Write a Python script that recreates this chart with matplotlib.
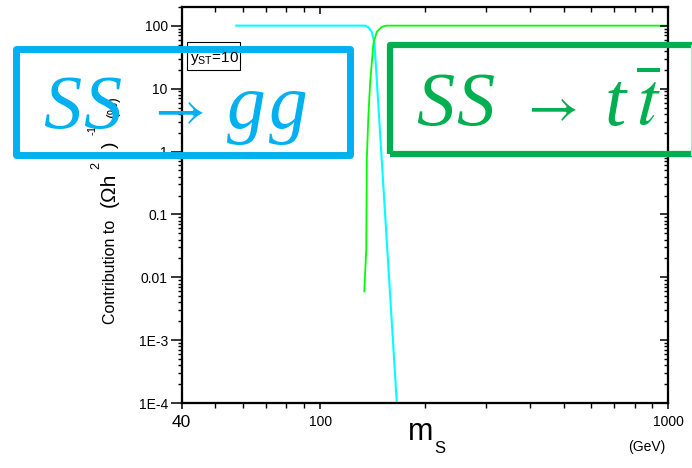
import matplotlib
matplotlib.use("Agg")
import matplotlib.pyplot as plt
from matplotlib.patches import Rectangle
from matplotlib.lines import Line2D
from matplotlib.ticker import FixedLocator, NullFormatter

# channel contributions (%) vs scalar mass (GeV), y_ST = 10
gg_mass = [57, 100, 134.7, 137.6, 140.6, 143.2, 166.0]
gg_frac = [100, 100, 100, 94, 80, 52.6, 1e-4]

tt_mass = [133.8, 135.6, 136.1, 137.5, 139.1, 142.2, 145.4, 150.3, 155, 1000]
tt_frac = [0.0058, 0.028, 0.75, 3.6, 12.3, 52.6, 80, 96, 100, 100]

x_major = [40, 100, 1000]
x_major_labels = ["40", "100", "1000"]
x_minor = [50, 60, 70, 80, 90, 200, 300, 400, 500, 600, 700, 800, 900]
y_major = [1e-4, 1e-3, 1e-2, 1e-1, 1, 10, 100]
y_major_labels = ["1E-4", "1E-3", "0.01", "0.1", "1", "10", "100"]

plt.rcParams["font.family"] = ["Liberation Sans", "DejaVu Sans"]
plt.rcParams["mathtext.fontset"] = "custom"
plt.rcParams["mathtext.it"] = "Liberation Serif:italic"
plt.rcParams["mathtext.rm"] = "Liberation Serif"

W, H = 692, 468
fig = plt.figure(figsize=(W / 100, H / 100), dpi=100)


def fx(px):
    return px / W


def fy(py):
    return 1 - py / H


ax = fig.add_axes([fx(181.7), fy(403.3), (668.3 - 181.7) / W, (403.3 - 6.7) / H])
ax.set_xscale("log")
ax.set_yscale("log")
ax.set_xlim(40, 1000)
ax.set_ylim(1e-4, 200)

ax.plot(gg_mass, gg_frac, color="#00ffff", lw=1.5, solid_capstyle="butt")
ax.plot(tt_mass, tt_frac, color="#00ff00", lw=1.3, solid_capstyle="butt")

for s in ax.spines.values():
    s.set_linewidth(1.5)

ax.xaxis.set_major_locator(FixedLocator(x_major))
ax.xaxis.set_minor_locator(FixedLocator(x_minor))
ax.set_xticklabels(x_major_labels)
ax.xaxis.set_minor_formatter(NullFormatter())
ax.yaxis.set_major_locator(FixedLocator(y_major))
ax.set_yticklabels(y_major_labels)
ax.yaxis.set_minor_formatter(NullFormatter())

ax.tick_params(axis="x", which="major", direction="out", length=4.5, width=1.1, labelsize=10, pad=4)
ax.tick_params(axis="x", which="minor", direction="out", length=3.3, width=1.0)
ax.tick_params(axis="y", which="major", direction="out", length=8, width=1.1, labelsize=10, pad=2)
ax.tick_params(axis="y", which="minor", direction="out", length=3, width=1.0)
ax.get_xticklabels()[0].set_fontsize(12.5)

# inward ticks on the top and right edges
ax_top = ax.twiny()
ax_top.set_xscale("log")
ax_top.set_xlim(40, 1000)
ax_top.xaxis.set_major_locator(FixedLocator(x_major))
ax_top.xaxis.set_minor_locator(FixedLocator(x_minor))
ax_top.xaxis.set_major_formatter(NullFormatter())
ax_top.xaxis.set_minor_formatter(NullFormatter())
ax_top.tick_params(axis="x", which="major", direction="in", length=5, width=1.1)
ax_top.tick_params(axis="x", which="minor", direction="in", length=3.3, width=1.0)

ax_right = ax.twinx()
ax_right.set_yscale("log")
ax_right.set_ylim(1e-4, 200)
ax_right.yaxis.set_major_locator(FixedLocator(y_major))
ax_right.yaxis.set_major_formatter(NullFormatter())
ax_right.yaxis.set_minor_formatter(NullFormatter())
ax_right.tick_params(axis="y", which="major", direction="in", length=5.5, width=1.1)
ax_right.tick_params(axis="y", which="minor", direction="in", length=3, width=1.0)
for a in (ax_top, ax_right):
    for s in a.spines.values():
        s.set_linewidth(1.5)

# axis titles
fig.text(fx(421), fy(440), "m", fontsize=22, ha="center", va="baseline")
fig.text(fx(440), fy(453), "S", fontsize=12, ha="center", va="baseline")
fig.text(fx(665), fy(451), "(GeV)", fontsize=10, ha="right", va="baseline")

ylab = [("Contribution to", 11.5, 111, 272),
        ("(\u03a9h", 15, 109, 190),
        ("2", 9, 96, 165),
        (")", 14, 110, 145),
        ("-1", 8, 93, 130),
        ("(%)", 10, 113, 107)]
for txt, size, px, py in ylab:
    fig.text(fx(px), fy(py), txt, fontsize=size, rotation=90, ha="center", va="center")

# coupling tag
fig.add_artist(Rectangle((fx(186.7), fy(70)), (240 - 186.7) / W, (70 - 42.3) / H,
                         transform=fig.transFigure, fc="white", ec="black", lw=0.8))
fig.text(fx(190), fy(62), r"$\mathregular{y_{ST}}$=10", fontsize=11, ha="left", va="baseline",
         math_fontfamily="dejavusans")

# channel boxes
blue = "#00b0f0"
green = "#00b050"
fig.add_artist(Rectangle((fx(16), fy(155.5)), (350 - 16) / W, (155.5 - 49) / H,
                         transform=fig.transFigure, fill=False, ec=blue, lw=5,
                         joinstyle="round"))
fig.add_artist(Rectangle((fx(390), fy(154.5)), (710 - 390) / W, (154.5 - 45.3) / H,
                         transform=fig.transFigure, fill=False, ec=green, lw=4.5,
                         joinstyle="round"))
fig.add_artist(Line2D([fx(690.7), fx(690.7)], [fy(45), fy(155)],
                      transform=fig.transFigure, color="#b5e3c8", lw=0.8))


def glyphs(parts, baseline, color):
    # each part: (text, left edge px, baseline shift px, font size, family, style)
    for txt, left, shift, size, fam, style in parts:
        fig.text(fx(left), fy(baseline + shift), txt, fontsize=size, color=color,
                 family=fam, style=style, ha="left", va="baseline",
                 math_fontfamily="stix")


serif = "Liberation Serif"
arrow = r"$\rightarrow$"
glyphs([("S", 43, 0, 55, serif, "italic"),
        ("S", 83, 0, 55, serif, "italic"),
        (arrow, 146, -3, 40, serif, "normal"),
        ("g", 227, 0, 56, serif, "italic"),
        ("g", 269, 0, 56, serif, "italic")], 128, blue)

glyphs([("S", 416, 0, 55, serif, "italic"),
        ("S", 456, 0, 55, serif, "italic"),
        (arrow, 519, -3, 40, serif, "normal"),
        ("t", 605, 0, 55, serif, "italic"),
        (r"$\overline{\mathit{t}}$", 636, 0, 55, serif, "italic")], 125, green)

fig.savefig("out.png", dpi=100)
